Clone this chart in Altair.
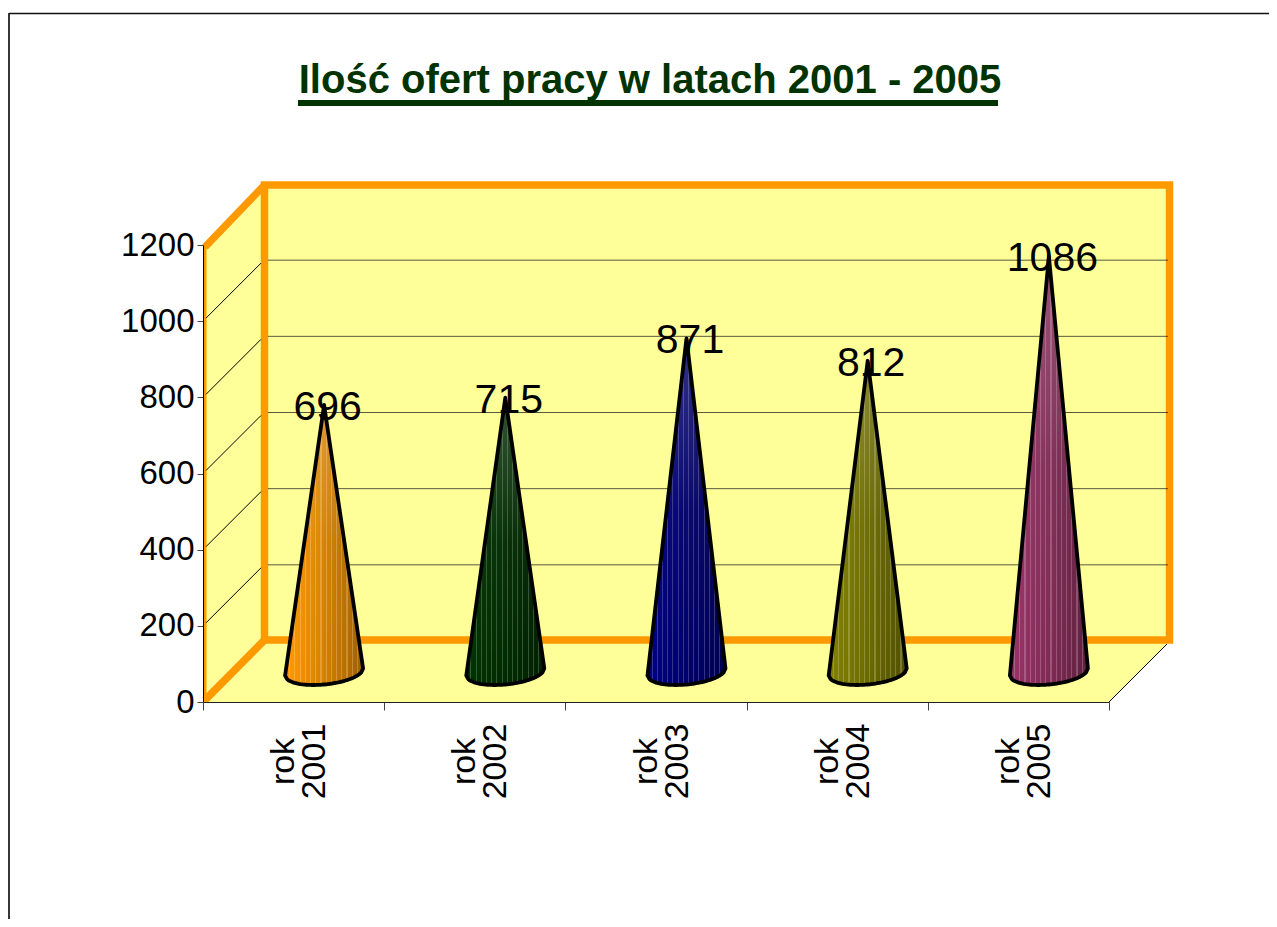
import altair as alt
import pandas as pd

categories = ["rok 2001", "rok 2002", "rok 2003", "rok 2004", "rok 2005"]
values = [696, 715, 871, 812, 1086]
cone_colors = ["#FF9900", "#003300", "#000080", "#808000", "#993366"]
y_ticks = [0, 200, 400, 600, 800, 1000, 1200]
grid_values = [200, 400, 600, 800, 1000]
title_text = "Ilość ofert pracy w latach 2001 - 2005"

W, H = 906, 457
PX_X = W / 5
PX_Y = H / 1200
XS = alt.Scale(domain=[0, 5], nice=False, zero=False)
YS = alt.Scale(domain=[0, 1200], nice=False)
SANS = "Liberation Sans"


def ux(dx):
    return dx / PX_X


def uy(dy):
    return dy / PX_Y


def mix(c, t, f):
    a = [int(c[i:i + 2], 16) for i in (1, 3, 5)]
    b = [int(t[i:i + 2], 16) for i in (1, 3, 5)]
    return "#%02x%02x%02x" % tuple(round(p + (q - p) * f) for p, q in zip(a, b))


def stripes(c):
    stops = []
    n = 15
    for i in range(n):
        s = i / n
        e = (i + 0.8) / n
        f = (i + 1) / n
        col = mix(c, "#000000", 0.38 * (s ** 1.2))
        end = mix(c, "#000000", 0.38 * (f ** 1.2))
        hi = mix(col, "#ffffff", 0.2)
        stops += [
            alt.GradientStop(offset=s, color=col),
            alt.GradientStop(offset=e, color=end),
            alt.GradientStop(offset=e, color=hi),
            alt.GradientStop(offset=f, color=hi),
        ]
    return alt.LinearGradient(gradient="linear", x1=0, x2=1, y1=0, y2=0, stops=stops)


sheen = alt.LinearGradient(
    gradient="linear", x1=0, x2=0, y1=0, y2=1,
    stops=[
        alt.GradientStop(offset=0, color="rgba(255,255,255,0.2)"),
        alt.GradientStop(offset=0.5, color="rgba(255,255,255,0.03)"),
        alt.GradientStop(offset=1, color="rgba(255,255,255,0)"),
    ],
)

# --- frame (walls and floor) in data units of the two scales
D = 62
TOP = uy(702 - 185)
wall_df = pd.DataFrame({"x": [ux(D), 5 + ux(D)], "y": [uy(D), uy(D)], "y2": [TOP, TOP]})
side_df = pd.DataFrame({"x": [0, ux(D)], "y": [0, uy(D)], "y2": [1200, TOP]})
floor_df = pd.DataFrame({
    "x": [0, ux(D), 5, 5 + ux(D)],
    "y": [0, uy(D), uy(D), uy(D)],
    "y2": [0, 0, 0, uy(D)],
})


def area(df, fill="#FFFF99"):
    return alt.Chart(df).mark_area(color=fill, clip=False).encode(
        x=alt.X("x:Q", scale=XS, axis=None),
        y=alt.Y("y:Q", scale=YS, axis=None),
        y2="y2:Q",
    )


def path(xs, ys, color, width):
    df = pd.DataFrame({"x": xs, "y": ys, "o": range(len(xs))})
    return alt.Chart(df).mark_line(
        color=color, strokeWidth=width, strokeJoin="miter", strokeCap="butt", clip=False
    ).encode(
        x=alt.X("x:Q", scale=XS, axis=None),
        y=alt.Y("y:Q", scale=YS, axis=None),
        order="o:Q",
    )


ORANGE = "#FF9900"
frame = [
    area(wall_df), area(side_df), area(floor_df),
    path([ux(61.5), ux(61.5), 5 + ux(60.5), 5 + ux(60.5), ux(61.5), ux(61.5)],
         [uy(62), TOP, TOP, uy(62), uy(62), TOP], ORANGE, 7.5),
    path([ux(2), ux(61.5)], [1200 - uy(2), TOP], ORANGE, 7.5),
    path([ux(2), ux(61.5)], [uy(2), uy(62)], ORANGE, 7.5),
    path([ux(2), ux(2)], [0, 1200], ORANGE, 3),
    path([5, 5 + ux(58)], [0, uy(58)], "#000000", 1),
]

# --- gridlines on back and side walls, taken from the tick values
grid = alt.Chart(pd.DataFrame({"v": grid_values})).mark_rule(
    color="#222222", strokeWidth=1, yOffset=-61, y2Offset=-61, opacity=0.75
).encode(
    x=alt.value(65), x2=alt.value(965),
    y=alt.Y("v:Q", scale=YS, axis=None), y2="v:Q",
)
diag = alt.Chart(pd.DataFrame({"v": grid_values})).mark_rule(
    color="#000000", strokeWidth=1, yOffset=-3, y2Offset=-58
).encode(
    x=alt.value(3), x2=alt.value(58),
    y=alt.Y("v:Q", scale=YS, axis=None), y2="v:Q",
)

# --- cones
CX = 30.5
BASE = 32
A, B, SL = 39, 12.5, -0.09
cones = []
for i, (v, c) in enumerate(zip(values, cone_colors)):
    cx = i + 0.5 + ux(CX)
    yb = uy(BASE - 2)  # ellipse centre
    apex = uy(BASE) + v
    us = [j / 20 for j in range(-20, 21)]
    xs = [cx + ux(A * u) for u in us]
    left_y = yb - uy(SL * -A)
    right_y = yb - uy(SL * A)
    tops = [
        (left_y + (apex - left_y) * (1 + u)) if u <= 0 else (right_y + (apex - right_y) * (1 - u))
        for u in us
    ]
    bottoms = [
        yb - uy(SL * A * u) - uy(B) * max(0, 1 - u * u) ** 0.5
        for u in us
    ]
    df = pd.DataFrame({"x": xs, "y": tops, "y2": bottoms})
    cones.append(area(df, stripes(c)))
    cones.append(area(df, sheen))
    px = [xs[0], cx, xs[-1]] + xs[::-1]
    py = [left_y, apex, right_y] + bottoms[::-1]
    line = pd.DataFrame({"x": px, "y": py, "o": range(len(px))})
    cones.append(
        alt.Chart(line).mark_line(
            color="#000000", strokeWidth=3.8, strokeJoin="round", strokeCap="round", clip=False
        ).encode(
            x=alt.X("x:Q", scale=XS, axis=None),
            y=alt.Y("y:Q", scale=YS, axis=None),
            order="o:Q",
        )
    )

labels_df = pd.DataFrame({
    "x": [i + 0.5 + ux(CX) for i in range(5)],
    "y": [v + uy(BASE) for v in values],
    "t": [str(v) for v in values],
})
value_labels = alt.Chart(labels_df).mark_text(
    font=SANS, fontSize=41, color="#000000", dx=3.5, dy=3, baseline="middle", align="center"
).encode(
    x=alt.X("x:Q", scale=XS, axis=None),
    y=alt.Y("y:Q", scale=YS, axis=None),
    text="t:N",
)

# --- real axes
base = alt.Chart(pd.DataFrame({"c": categories, "v": values})).mark_point(opacity=0).encode(
    x=alt.X(
        "c:N", sort=categories, title=None,
        axis=alt.Axis(
            zindex=1, tickBand="extent", labelAngle=270, labelAlign="center",
            labelBaseline="middle", labelFont=SANS, labelFontSize=34, labelColor="#000000",
            labelExpr="split(datum.label, ' ')", labelLineHeight=31, labelPadding=51,
            labelOffset=-10,
            tickSize=8, tickColor="#444444", domainColor="#222222", labelLimit=300,
            labelOverlap=False, grid=False,
        ),
    ),
    y=alt.Y(
        "v:Q", scale=YS, title=None,
        axis=alt.Axis(
            zindex=1, values=y_ticks, format="d", labelFont=SANS, labelFontSize=33,
            labelColor="#000000", labelPadding=3, tickSize=6, tickColor="#444444",
            domainColor="#000000", grid=False, labelOverlap=False,
        ),
    ),
)

# --- title, underline and the sheet border (decoration, placed on the page)
title = alt.Chart(pd.DataFrame({"t": [title_text]})).mark_text(
    font=SANS, fontWeight="bold", fontSize=40, color="#003300", align="center", baseline="alphabetic"
).encode(x=alt.value(650 - 203), y=alt.value(93 - 245), text="t:N")
underline = alt.Chart(pd.DataFrame({"a": [0]})).mark_rule(color="#003300", strokeWidth=6).encode(
    x=alt.value(298 - 203), x2=alt.value(998 - 203), y=alt.value(103 - 245)
)
border_top = alt.Chart(pd.DataFrame({"a": [0]})).mark_rule(color="#111111", strokeWidth=1.5).encode(
    x=alt.value(9 - 203), x2=alt.value(1269 - 203), y=alt.value(13.5 - 245)
)
border_left = alt.Chart(pd.DataFrame({"a": [0]})).mark_rule(color="#222222", strokeWidth=1.8).encode(
    x=alt.value(9 - 203), y=alt.value(13 - 245), y2=alt.value(919 - 245)
)

chart = alt.layer(
    base, *frame, grid, diag, *cones, value_labels, title, underline, border_top, border_left
).resolve_scale(x="independent", y="independent").properties(
    width=W, height=H,
    autosize=alt.AutoSizeParams(type="none"),
    padding={"left": 195, "top": 237, "right": 160, "bottom": 217},
    background="#FFFFFF",
).configure_view(stroke=None)

chart.save("out.html", embed_options={"renderer": "svg", "actions": False})
